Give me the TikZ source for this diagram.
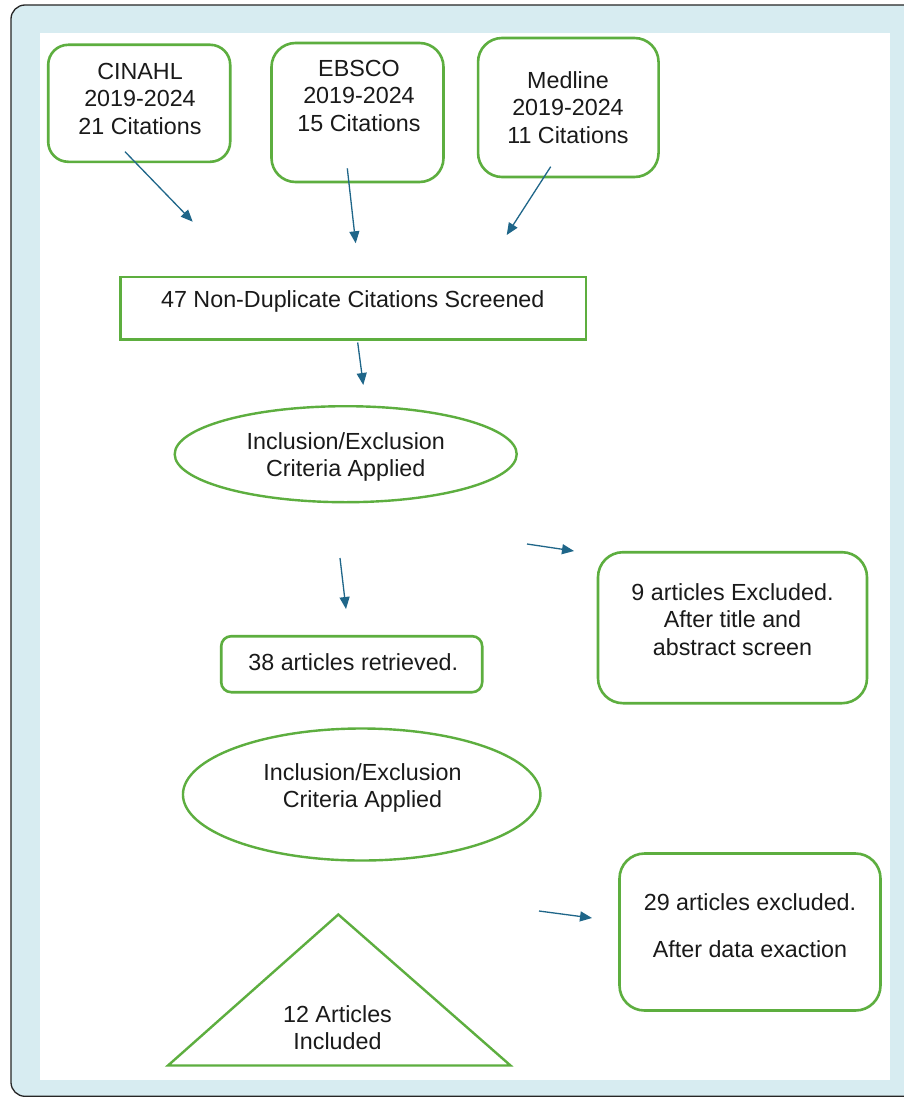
\documentclass[tikz,border=0pt]{standalone}
\usepackage{fontspec}
\setmainfont{Liberation Sans}
\usetikzlibrary{arrows.meta,shapes.geometric}
\definecolor{bgblue}{HTML}{D7ECF1}
\definecolor{gline}{HTML}{5DAE3F}
\definecolor{arrc}{HTML}{1F6689}
\definecolor{textc}{HTML}{1A1A1A}
\tikzset{
  gbox/.style={draw=gline, line width=2.6pt, fill=white, rectangle, inner sep=0pt},
  gell/.style={draw=gline, line width=2.4pt, fill=white, ellipse, inner sep=0pt},
  txt/.style={font=\fontsize{23.3}{27.5}\selectfont, align=center, inner sep=0pt, text=textc, anchor=north},
  conn/.style={draw=arrc, line width=1.3pt, -{Triangle[length=12pt,width=10pt]}}
}
\begin{document}
\begin{tikzpicture}[x=1pt,y=-1pt]
\useasboundingbox (0,0) rectangle (904,1097);
% frame
\draw[fill=bgblue, draw=black!85, line width=1.3pt, rounded corners=14pt] (11,5) rectangle (940,1096.3);
\fill[white] (40,33.5) rectangle (890,1080);
% source boxes
\node[gbox, rounded corners=20pt, minimum width=182pt, minimum height=117pt] (cinahl) at (139.2,103.3) {};
\node[txt] (cinahlt) at (140,63) {CINAHL\\2019-2024\\21 Citations};
\node[gbox, rounded corners=24pt, minimum width=172pt, minimum height=139pt] (ebsco) at (357.5,112.5) {};
\node[txt] (ebscot) at (359,60) {EBSCO\\2019-2024\\15 Citations};
\node[gbox, rounded corners=24pt, minimum width=180.5pt, minimum height=139pt] (medline) at (568.3,107.5) {};
\node[txt] (medlinet) at (568,71.3) {Medline\\2019-2024\\11 Citations};
% screened
\node[gbox, minimum width=465.5pt, minimum height=62.8pt] (screen) at (353.3,308.3) {};
\node[txt] (screent) at (352.8,290) {47 Non-Duplicate Citations Screened};
% criteria 1
\node[gell, minimum width=342pt, minimum height=96pt] (crit1) at (345.7,454.2) {};
\node[txt] (crit1t) at (345.8,432) {Inclusion/Exclusion\\Criteria Applied};
% retrieved
\node[gbox, rounded corners=10pt, minimum width=261pt, minimum height=56pt] (retr) at (351.7,664.2) {};
\node[txt] (retrt) at (353.3,653) {38 articles retrieved.};
% criteria 2
\node[gell, minimum width=357.5pt, minimum height=132pt] (crit2) at (361.7,794.5) {};
\node[txt] (crit2t) at (362.5,763) {Inclusion/Exclusion\\Criteria Applied};
% excluded 1
\node[gbox, rounded corners=25pt, minimum width=269pt, minimum height=151pt] (excl1) at (732.5,627.7) {};
\node[txt] (excl1t) at (732.5,583) {9 articles Excluded.\\After title and\\abstract screen};
% excluded 2
\node[gbox, rounded corners=25pt, minimum width=261pt, minimum height=157pt] (excl2) at (750,932) {};
\node[txt] (excl2t) at (750,893) {29 articles excluded.\\[19.5pt]After data exaction};
% included triangle
\coordinate (tA) at (338.3,914.5);
\coordinate (tL) at (168,1065.5);
\coordinate (tR) at (510.5,1065.5);
\draw[draw=gline, line width=2.4pt, fill=white, line join=miter] (tA) -- (tR) -- (tL) -- cycle;
\node[txt] (inclt) at (337.5,1005) {12 Articles\\Included};
% arrows
\coordinate (a1s) at (125,151.7);  \coordinate (a1e) at (192.7,221.7);
\coordinate (a2s) at (347.3,168.3); \coordinate (a2e) at (355.7,243.3);
\coordinate (a3s) at (550.7,166.7); \coordinate (a3e) at (506.7,235);
\coordinate (a4s) at (357.7,342.5); \coordinate (a4e) at (363.3,385);
\coordinate (a5s) at (340,558);   \coordinate (a5e) at (346,609);
\coordinate (a6s) at (527,544);   \coordinate (a6e) at (574,551);
\coordinate (a7s) at (539,911);   \coordinate (a7e) at (592,918);
\draw[conn] (a1s) -- (a1e);
\draw[conn] (a2s) -- (a2e);
\draw[conn] (a3s) -- (a3e);
\draw[conn] (a4s) -- (a4e);
\draw[conn] (a5s) -- (a5e);
\draw[conn] (a6s) -- (a6e);
\draw[conn] (a7s) -- (a7e);
\end{tikzpicture}
\end{document}
